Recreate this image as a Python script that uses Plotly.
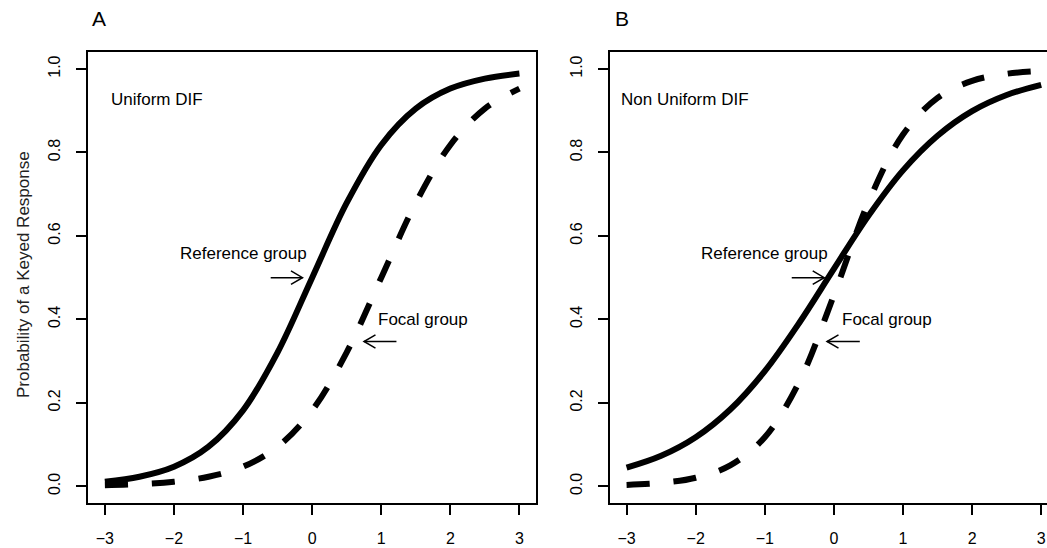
import plotly.graph_objects as go

# ---------------- data ----------------
theta = [-3.0, -2.5, -2.0, -1.5, -1.0, -0.5, 0.0, 0.5, 1.0, 1.5, 2.0, 2.5, 3.0]

# Panel A: uniform DIF
ref_uniform = [0.011, 0.023, 0.047, 0.095, 0.182, 0.321, 0.500, 0.679, 0.818, 0.905, 0.953, 0.977, 0.989]
focal_uniform = [0.0025, 0.0052, 0.011, 0.023, 0.047, 0.095, 0.182, 0.321, 0.500, 0.679, 0.818, 0.905, 0.953]

# Panel B: non uniform DIF
ref_nonuniform = [0.0445, 0.073, 0.1175, 0.184, 0.276, 0.392, 0.521, 0.648, 0.757, 0.840, 0.899, 0.9376, 0.962]
focal_nonuniform = [0.0033, 0.0082, 0.0205, 0.050, 0.1175, 0.251, 0.458, 0.681, 0.843, 0.931, 0.9716, 0.9886, 0.9954]

x_ticks = [-3, -2, -1, 0, 1, 2, 3]
y_ticks = [0.0, 0.2, 0.4, 0.6, 0.8, 1.0]

panel_letters = ["A", "B"]
y_title = "Probability of a Keyed Response"

label_panel = ["A", "A", "A", "B", "B", "B"]
label_text = ["Uniform DIF", "Reference group", "Focal group",
              "Non Uniform DIF", "Reference group", "Focal group"]
label_x = [-2.25, -1.0, 1.60, -2.15, -1.0, 0.764]
label_y = [0.928, 0.558, 0.400, 0.928, 0.558, 0.400]

arrow_panel = ["A", "A", "B", "B"]
arrow_tail_x = [-0.60, 1.22, -0.61, 0.375]
arrow_head_x = [-0.14, 0.75, -0.14, -0.10]
arrow_y = [0.500, 0.347, 0.500, 0.347]

# ---------------- layout geometry ----------------
W, H = 1047, 548
FONT = "Liberation Sans, Arial, Helvetica, sans-serif"
xr_a = [-3.24, 3.24]
xr_b = [-3.24, 3.084]
yr = [-0.04, 1.04]
xdom_a = [88.3 / W, 536.0 / W]
xdom_b = [610.0 / W, 1.0]
ydom = [(H - 503.0) / H, (H - 52.3) / H]

axis_ref = {"A": ("x", "y"), "B": ("x2", "y2")}
xr_of = {"A": xr_a, "B": xr_b}
xdom_of = {"A": xdom_a, "B": xdom_b}

fig = go.Figure()

curve_sets = {"A": (ref_uniform, focal_uniform), "B": (ref_nonuniform, focal_nonuniform)}
for p in panel_letters:
    xa, ya = axis_ref[p]
    ref, foc = curve_sets[p]
    fig.add_trace(go.Scatter(x=theta, y=foc, mode="lines", xaxis=xa, yaxis=ya,
                             line=dict(color="black", width=6, dash="23px,24px", shape="spline"),
                             showlegend=False, hoverinfo="skip"))
    fig.add_trace(go.Scatter(x=theta, y=ref, mode="lines", xaxis=xa, yaxis=ya,
                             line=dict(color="black", width=6, shape="spline"),
                             showlegend=False, hoverinfo="skip"))

# arrows (shaft + open head), head size in pixels converted to data units
head_dx_px, head_dy_px = 11.5, 6.7
for p, tx, hx, ay in zip(arrow_panel, arrow_tail_x, arrow_head_x, arrow_y):
    xa, ya = axis_ref[p]
    xr = xr_of[p]
    xd = xdom_of[p]
    ppx = (xd[1] - xd[0]) * W / (xr[1] - xr[0])
    ppy = (ydom[1] - ydom[0]) * H / (yr[1] - yr[0])
    d = 1 if hx > tx else -1
    bx = hx - d * head_dx_px / ppx
    dy = head_dy_px / ppy
    xs = [tx, hx, None, bx, hx, bx]
    ys = [ay, ay, None, ay + dy, ay, ay - dy]
    fig.add_trace(go.Scatter(x=xs, y=ys, mode="lines", xaxis=xa, yaxis=ya,
                             line=dict(color="black", width=1.5),
                             showlegend=False, hoverinfo="skip"))

annotations = []
for p, t, x, y in zip(label_panel, label_text, label_x, label_y):
    xa, ya = axis_ref[p]
    annotations.append(dict(x=x, y=y, xref=xa, yref=ya, text=t, showarrow=False,
                            xanchor="center", yanchor="middle",
                            font=dict(family=FONT, size=17, color="black")))

letter_x_px = {"A": 99.0, "B": 622.0}
for p in panel_letters:
    annotations.append(dict(x=letter_x_px[p] / W, y=(H - 18.6) / H, xref="paper", yref="paper",
                            text=p, showarrow=False, xanchor="center", yanchor="middle",
                            font=dict(family=FONT, size=21, color="black")))

annotations.append(dict(x=23.0 / W, y=(H - 275.0) / H, xref="paper", yref="paper",
                        text=y_title, showarrow=False, textangle=-90,
                        xanchor="center", yanchor="middle",
                        font=dict(family=FONT, size=17, color="#222222")))

tickfont = dict(family=FONT, size=16, color="black")
common_x = dict(tickmode="array", tickvals=x_ticks, ticks="outside", ticklen=10, tickwidth=1.8,
                tickcolor="black", showline=True, linecolor="black", linewidth=2,
                showgrid=False, zeroline=False, tickfont=tickfont, ticklabelstandoff=10,
                fixedrange=True)
common_y = dict(tickmode="array", tickvals=y_ticks, tickformat=".1f", ticks="outside", ticklen=10,
                tickwidth=1.8, tickcolor="black", showline=True, linecolor="black", linewidth=2,
                showgrid=False, zeroline=False, tickfont=tickfont, tickangle=-90,
                ticklabelstandoff=10, range=yr, fixedrange=True)

fig.update_layout(
    width=W, height=H,
    margin=dict(l=0, r=0, t=0, b=0),
    paper_bgcolor="white", plot_bgcolor="white",
    xaxis=dict(common_x, domain=xdom_a, range=xr_a, anchor="y", mirror=True),
    yaxis=dict(common_y, domain=ydom, anchor="x", mirror=True),
    xaxis2=dict(common_x, domain=xdom_b, range=xr_b, anchor="y2", mirror=True),
    yaxis2=dict(common_y, domain=ydom, anchor="x2", mirror=False),
    annotations=annotations,
    showlegend=False,
)

fig.write_html("out.html")
